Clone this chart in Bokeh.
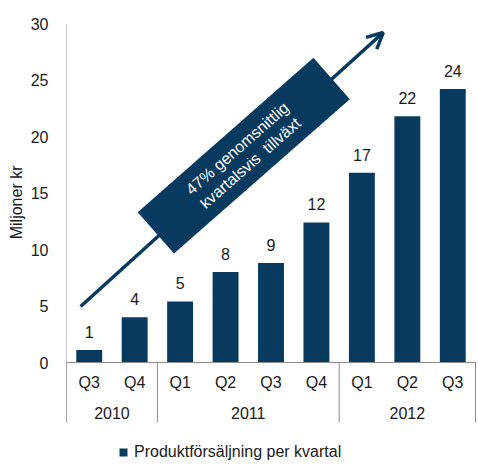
import math
from bokeh.plotting import figure
from bokeh.models import (Range1d, FixedTicker, Arrow, OpenHead, Title,
                          Legend, LegendItem, ColumnDataSource)
from bokeh.core.properties import value
from bokeh.embed import file_html
from bokeh.resources import INLINE

# ---- data ----
quarters = ["Q3", "Q4", "Q1", "Q2", "Q3", "Q4", "Q1", "Q2", "Q3"]
years = ["2010", "2011", "2012"]
year_counts = [2, 4, 3]
sales = [1.1, 4.0, 5.4, 8.0, 8.8, 12.4, 16.8, 21.8, 24.2]
y_ticks = [0, 5, 10, 15, 20, 25, 30]
series_name = "Produktförsäljning per kvartal"
y_title = "Miljoner kr"
growth_text = "47% genomsnittlig\nkvartalsvis\u00a0 tillväxt"

# ---- styling / annotation placement ----
NAVY = "#073A5E"
GRAY = "#8C8C8C"
TXT = "#1A1A1A"
FONT = "Liberation Sans"
Y_MIN, Y_MAX = -10, 30        # frame reaches down to the legend row
CAT_FLOOR = -5.3              # bottom of the category separators
ARROW_START = (0.31, 4.96)
ARROW_END = (6.97, 29.2)
BOX_CENTER = (3.9, 18.3)
BOX_ANGLE = math.radians(41.3)

n = len(quarters)
xs = [i + 0.5 for i in range(n)]

p = figure(width=478, height=475, output_backend="svg", toolbar_location=None,
           x_range=Range1d(0, n + 0.022), y_range=Range1d(Y_MIN, Y_MAX),
           min_border_left=66, min_border_right=2, min_border_top=23,
           min_border_bottom=0, x_axis_location=None)
p.outline_line_color = None
p.xgrid.visible = False
p.ygrid.visible = False
p.background_fill_color = "white"
p.border_fill_color = "white"

ax = p.yaxis[0]
ax.ticker = FixedTicker(ticks=y_ticks)
ax.axis_line_color = None
ax.major_tick_line_color = None
ax.minor_tick_line_color = None
ax.major_label_standoff = 12
ax.major_label_text_font = FONT
ax.major_label_text_font_size = "16px"
ax.major_label_text_color = TXT

# y title
p.add_layout(Title(text=y_title, align="right", offset=142, text_font=FONT,
                   text_font_size="16px", text_font_style="normal",
                   text_color=TXT, standoff=6), "left")

# bars
src = ColumnDataSource(dict(x=xs, top=sales, lab=[f"{v:.0f}" for v in sales], q=quarters))
bars = p.vbar(x="x", top="top", bottom=0, width=0.57, source=src,
              fill_color=NAVY, line_color=None)

# value labels
p.text(x="x", y="top", text="lab", source=src, text_align="center",
       text_baseline="middle", y_offset=-18, text_font=value(FONT),
       text_font_size="16px", text_color=TXT)

# axis lines, category labels and separators
p.segment(x0=[0], y0=[CAT_FLOOR], x1=[0], y1=[Y_MAX], line_color=GRAY, line_width=1)
p.segment(x0=[0], y0=[0], x1=[n], y1=[0], line_color=GRAY, line_width=1)
p.text(x="x", y=0, text="q", source=src, text_align="center", text_baseline="middle",
       y_offset=20, text_font=value(FONT), text_font_size="16px", text_color=TXT)

bounds = [0]
for c in year_counts:
    bounds.append(bounds[-1] + c)
p.segment(x0=bounds, y0=[0] * len(bounds), x1=bounds, y1=[CAT_FLOOR] * len(bounds),
          line_color=GRAY, line_width=1)
centers = [(bounds[i] + bounds[i + 1]) / 2 for i in range(len(years))]
p.text(x=centers, y=[0] * len(years), text=years, text_align="center",
       text_baseline="middle", y_offset=50, text_font=value(FONT),
       text_font_size="16px", text_color=TXT)

# growth arrow and box
p.add_layout(Arrow(x_start=ARROW_START[0], y_start=ARROW_START[1],
                   x_end=ARROW_END[0], y_end=ARROW_END[1],
                   line_color=NAVY, line_width=3.5,
                   end=OpenHead(size=16, line_color=NAVY, line_width=3.5)))
p.rect(x=[BOX_CENTER[0]], y=[BOX_CENTER[1]], width=234, height=55,
       width_units="screen", height_units="screen", angle=BOX_ANGLE,
       fill_color=NAVY, line_color=None)
p.text(x=[BOX_CENTER[0]], y=[BOX_CENTER[1]], text=[growth_text], angle=BOX_ANGLE,
       text_align="center", text_baseline="middle", text_font=value(FONT),
       text_font_size="16px", text_color="white", text_line_height=1.15)

legend = Legend(items=[LegendItem(label=series_name, renderers=[bars])],
                location=(52, 14), orientation="horizontal",
                glyph_width=10, glyph_height=10, label_standoff=6,
                label_text_font=FONT, label_text_font_size="16px",
                label_text_color=TXT, border_line_color=None,
                background_fill_alpha=0, padding=4, margin=0)
p.add_layout(legend, "center")

open("out.html", "w").write(file_html(p, INLINE))
